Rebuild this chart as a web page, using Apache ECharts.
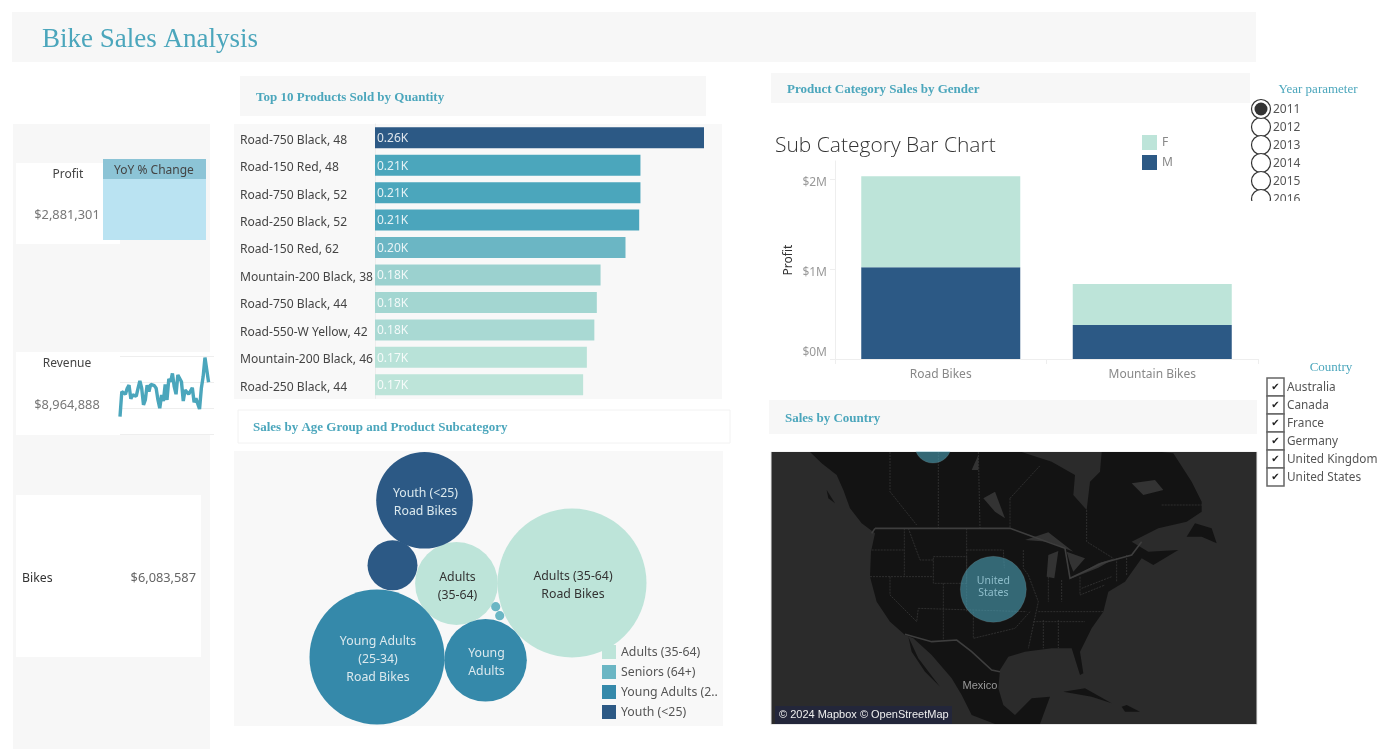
<!DOCTYPE html>
<html>
<head>
<meta charset="utf-8">
<style>html,body{margin:0;padding:0;background:#fff}#c{width:1399px;height:749px}</style>
<script src="https://cdn.jsdelivr.net/npm/echarts@6/dist/echarts.min.js"></script>
</head>
<body>
<div id="c"></div>
<script>
const SANS = '"Noto Sans", sans-serif';
const SERIF = '"Liberation Serif", serif';

// Top 10 products
const productNames = ['Road-750 Black, 48','Road-150 Red, 48','Road-750 Black, 52','Road-250 Black, 52','Road-150 Red, 62','Mountain-200 Black, 38','Road-750 Black, 44','Road-550-W Yellow, 42','Mountain-200 Black, 46','Road-250 Black, 44'];
const productQty = [264,213,213,212,201,181,178,176,170,167];
const productColors = ['#2c5985','#4ba6bc','#4ba6bc','#4ba5bc','#6bb6c4','#9bd1cf','#a3d6d1','#a9d9d3','#b8e2d8','#bde4d9'];

// Gender stacked bars ($M)
const subCategories = ['Road Bikes','Mountain Bikes'];
const profitMale = [1.02,0.378];
const profitFemale = [1.01,0.455];

// Revenue sparkline ($K)
const revenueTrend = [67,163,165,153,176,188,135,150,144,146,176,204,176,112,131,188,163,191,186,186,176,131,99,150,127,191,131,212,201,233,182,153,227,233,201,127,169,176,153,150,178,122,137,137,96,176,221,294,294,199];

// Packed bubbles
const bubbleGroups = ['Adults (35-64)','Seniors (64+)','Young Adults (2..','Youth (<25)'];
const bubbleGroupColors = ['#bde4d9','#6bb6c4','#3589aa','#2c5985'];
const bubbleGroup = [0,0,2,2,3,3,1,1];
const bubbleLabels = ['Adults (35-64)\nRoad Bikes','Adults\n(35-64)','Young Adults\n(25-34)\nRoad Bikes','Young\nAdults','Youth (<25)\nRoad Bikes','','',''];
const bubbleX = [338,222.5,143,251.5,190.5,158.5,261.7,265.7];
const bubbleY = [132,132.5,206,209.3,49.3,114.3,155.7,164.7];
const bubbleSales = [1850,571,1519,569,778,208,7,7];

// Map
const mapCountries = ['Canada','United States'];
const mapX = [504,685];
const mapY = [149,583];
const mapSales = [340,1090];
const mapLabels = ['','United\nStates'];
const landOutline = [[135,171],[170,205],[215,240],[235,285],[255,340],[290,385],[330,415],[318,470],[315,545],[335,620],[375,680],[420,720],[445,730],[500,780],[560,850],[590,900],[620,960],[690,987],[825,987],[855,905],[800,910],[750,960],[715,930],[700,880],[705,825],[730,785],[780,770],[860,760],[920,760],[945,840],[955,835],[945,770],[960,740],[980,700],[1015,650],[1030,590],[1080,560],[1130,490],[1165,510],[1240,465],[1150,470],[1100,440],[1180,400],[1265,380],[1310,350],[1310,320],[1280,260],[1225,175],[1190,171],[1010,171],[1005,230],[975,260],[965,345],[925,300],[930,240],[860,200],[770,171]];
const islands = [
  [[430,725],[460,790],[525,875],[480,830],[440,770]],
  [[895,890],[960,880],[1040,925],[980,905]],
  [[1070,935],[1085,930],[1125,950],[1080,950]],
  [[1265,425],[1290,385],[1340,400],[1355,445],[1310,425]],
  [[185,285],[210,325],[190,310]]
];
const lakes = [
  [[780,435],[850,412],[925,470],[850,440]],
  [[845,545],[850,480],[880,468],[868,550]],
  [[905,470],[960,490],[925,530],[915,505]],
  [[915,552],[1000,505],[1050,490],[1000,518]],
  [[655,310],[690,290],[720,370],[690,350]],
  [[620,225],[640,180],[640,225]],
  [[1100,265],[1170,255],[1195,285],[1135,300]]
];
const borderLines = [
  [[330,400],[735,400],[790,420],[900,460],[915,550],[1010,505],[1100,480],[1130,440]],
  [[420,718],[500,740],[575,735],[620,770],[680,825],[705,830]],
  [[320,415],[330,400]]
];
const regionLines = [
  [[375,171],[375,290],[455,390]],[[520,171],[520,400]],[[640,171],[645,400]],[[735,310],[735,400]],[[735,310],[825,212]],
  [[965,345],[965,440],[1045,490]],[[1190,330],[1310,330]],
  [[418,400],[418,545]],[[315,545],[505,545]],[[375,545],[375,600],[455,680],[460,640]],[[460,640],[785,650]],
  [[505,485],[605,485],[605,565],[505,565],[505,485]],[[605,400],[605,650]],[[605,465],[715,465],[718,520]],[[535,565],[535,735]],
  [[320,465],[418,465]],[[430,400],[465,495],[505,495]],[[625,650],[625,730],[750,700],[795,650]],
  [[775,465],[775,520],[790,540],[820,620],[790,760]],[[850,545],[850,620]],[[890,555],[890,620]],[[945,545],[945,600],[1020,570]],
  [[820,650],[1015,650]],[[805,680],[960,680]],[[835,675],[835,760]],[[880,675],[880,760]],[[950,580],[1040,545]],[[1055,490],[1055,560]],[[1085,480],[1085,540]]
];

// Filters
const yearOptions = ['2011','2012','2013','2014','2015','2016'];
const countryOptions = ['Australia','Canada','France','Germany','United Kingdom','United States'];

function rect(x,y,w,h,fill,z,stroke,lw){return {type:'rect',shape:{x:x,y:y,width:w,height:h},style:{fill:fill,stroke:stroke||null,lineWidth:stroke?(lw||1):0},z:z||0,silent:true};}
function txt(s,x,y,font,fill,align,z){return {type:'text',x:x,y:y+1,style:{text:s,font:font,fill:fill,textAlign:align||'left',textVerticalAlign:'middle'},z:z||20,silent:true};}
const head = 'bold 13px '+SERIF;
const teal = '#4ba6bc';

const g = [
  rect(12,12,1244,50,'#f7f7f7'),
  txt('Bike Sales Analysis',42,39,'27px '+SERIF,teal),
  rect(13,124,197,625,'#f7f7f7'),
  rect(16,163,104,81,'#fff'),
  rect(103,159,103,20,'#8cc4d6',1),
  rect(103,179,103,61,'#bae3f2',1),
  txt('Profit',68,174,'12px '+SANS,'#444','center'),
  txt('$2,881,301',67,214,'12.8px '+SANS,'#777','center'),
  txt('YoY % Change',154,170,'12px '+SANS,'#444','center'),
  rect(16,352,104,83,'#fff'),
  rect(120,352,94,83,'#fff'),
  txt('Revenue',67,363,'12px '+SANS,'#444','center'),
  txt('$8,964,888',67,404,'12.8px '+SANS,'#777','center'),
  rect(16,495,185,162,'#fff'),
  txt('Bikes',22,577,'12.3px '+SANS,'#333'),
  txt('$6,083,587',196,577,'12.8px '+SANS,'#666','right'),
  rect(240,76,466,40,'#f7f7f7'),
  txt('Top 10 Products Sold by Quantity',256,97,head,teal),
  rect(234,124,488,275,'#f8f8f8'),
  rect(238,410,492,33,'#fff',0,'#f2f2f2'),
  txt('Sales by Age Group and Product Subcategory',253,427,head,teal),
  rect(234,451,489,275,'#f8f8f8'),
  rect(771,73,479,30,'#f7f7f7'),
  txt('Product Category Sales by Gender',787,89,head,teal),
  txt('Sub Category Bar Chart',775,145,'300 21px "Open Sans", sans-serif','#333'),
  // map masks and header drawn over the map layer
  rect(765,395,500,56.5,'#fff',10),
  rect(769,400,488,34,'#f7f7f7',11),
  txt('Sales by Country',785,418,head,teal),
  rect(771,451.5,486,273,'#2b2b2b',0,'#e8e8e8'),
  rect(775,706,177,18,'#23263a',12),
  txt('© 2024 Mapbox © OpenStreetMap',779,714,'11px "Liberation Sans", sans-serif','#eee'),
  txt('Mexico',980,685,'11px "Liberation Sans", sans-serif','#9a9a9a','center'),
  txt('Year parameter',1318,89,'13px '+SERIF,teal,'center'),
  txt('Country',1331,367,'13px '+SERIF,teal,'center')
];
yearOptions.forEach(function(y,i){
  const cy = 109+i*18;
  g.push({type:'circle',shape:{cx:1261,cy:cy,r:9.5},style:{fill:'#fff',stroke:'#333',lineWidth:1.2},z:i===0?15:14,silent:true});
  if(i===0) g.push({type:'circle',shape:{cx:1261,cy:cy,r:6.5},style:{fill:'#333'},z:16,silent:true});
  g.push(txt(y,1273,cy,'12px '+SANS,'#555','left',17));
});
g.push(rect(1250,201,60,12,'#fff',18));
countryOptions.forEach(function(c,i){
  const cy = 387+i*18;
  g.push(rect(1267,cy-9,17,18,'#fff',14,'#666',1.5));
  g.push(txt('✔',1275.5,cy-1,'10px "DejaVu Sans", sans-serif','#222','center',15));
  g.push(txt(c,1287,cy-0.5,'11.8px '+SANS,'#555','left',15));
});

const hidden = function(i,min,max,extra){return Object.assign({show:false,type:'value',gridIndex:i,min:min,max:max},extra||{});};

function polyItem(points,api,closed,style){
  const pts = points.map(function(p){return api.coord(p);});
  return {type:closed?'polygon':'polyline',shape:{points:pts},style:style,silent:true};
}

const series = [
  {type:'bar',name:'Quantity',xAxisIndex:0,yAxisIndex:0,barWidth:21,silent:true,
   data:productQty.map(function(v,i){return {value:v,itemStyle:{color:productColors[i]}};}),
   label:{show:true,position:'insideLeft',distance:2,offset:[0,1],fontFamily:SANS,fontSize:12,color:'rgba(255,255,255,0.85)',
     formatter:function(p){return (p.value/1000).toFixed(2)+'K';}}},
  {type:'bar',name:'M',stack:'s',xAxisIndex:1,yAxisIndex:1,barWidth:159,silent:true,data:profitMale,itemStyle:{color:'#2c5985'}},
  {type:'bar',name:'F',stack:'s',xAxisIndex:1,yAxisIndex:1,barWidth:159,silent:true,data:profitFemale,itemStyle:{color:'#bde4d9'}},
  {type:'line',name:'Revenue',xAxisIndex:2,yAxisIndex:2,showSymbol:false,silent:true,clip:false,
   data:revenueTrend.map(function(v,i){return [i,v];}),lineStyle:{color:teal,width:3.4}},
  {type:'custom',name:'land',xAxisIndex:4,yAxisIndex:4,silent:true,z:1,clip:false,data:[0],
   renderItem:function(p,api){
     const kids = [];
     kids.push(polyItem(landOutline,api,true,{fill:'#131313'}));
     islands.forEach(function(s){kids.push(polyItem(s,api,true,{fill:'#131313'}));});
     lakes.forEach(function(s){kids.push(polyItem(s,api,true,{fill:'#333'}));});
     regionLines.forEach(function(s){kids.push(polyItem(s,api,false,{fill:null,stroke:'#363636',lineWidth:0.8,lineDash:[2,1]}));});
     borderLines.forEach(function(s){kids.push(polyItem(s,api,false,{fill:null,stroke:'#3e3e3e',lineWidth:1.6}));});
     return {type:'group',children:kids};
   }},
  {type:'scatter',name:'Sales by Country',xAxisIndex:4,yAxisIndex:4,silent:true,z:3,clip:false,
   data:mapCountries.map(function(c,i){return {name:c,value:[mapX[i],mapY[i],mapSales[i]],label:{formatter:mapLabels[i]}};}),
   symbolSize:function(v){return 2*Math.sqrt(v[2]);},
   itemStyle:{color:'rgba(75,166,188,0.58)',borderColor:'rgba(200,200,200,0.25)',borderWidth:0.5,opacity:1},
   label:{show:true,position:'inside',offset:[0,-2],fontFamily:SANS,fontSize:10.5,lineHeight:12,color:'#8fbecb'}}
];
bubbleGroups.forEach(function(name,gi){
  const rows = [];
  bubbleGroup.forEach(function(k,i){ if(k===gi) rows.push({value:[bubbleX[i],bubbleY[i],bubbleSales[i]],label:{formatter:bubbleLabels[i]}}); });
  series.push({type:'scatter',name:name,xAxisIndex:3,yAxisIndex:3,silent:true,clip:false,data:rows,
    symbolSize:function(v){return 2*Math.sqrt(3*v[2]);},
    itemStyle:{color:bubbleGroupColors[gi],opacity:1},
    label:{show:true,position:'inside',offset:[1,2.5],fontFamily:SANS,fontSize:12.3,lineHeight:18,color:gi===0?'#333':'#dbe9ee'}});
});

const option = {
  animation:false,
  backgroundColor:'#fff',
  tooltip:{show:false},
  legend:[
    {data:bubbleGroups,left:602,top:645,orient:'vertical',itemWidth:14,itemHeight:14,itemGap:6,icon:'rect',selectedMode:false,z:6,
     textStyle:{fontFamily:SANS,fontSize:12.3,color:'#555',padding:[5,0,0,0]},padding:0},
    {data:['F','M'],left:1142,top:135,orient:'vertical',itemWidth:15,itemHeight:15,itemGap:5,icon:'rect',selectedMode:false,
     textStyle:{fontFamily:SANS,fontSize:12,color:'#888',padding:[4,0,0,0]},padding:0}
  ],
  grid:[
    {left:375,top:124,width:329,height:274.5},
    {left:835,top:161,width:423,height:198},
    {left:120,top:356,width:94,height:78},
    {left:234,top:451,width:489,height:275},
    {left:771,top:400,width:486,height:324}
  ],
  xAxis:[
    hidden(0,0,264),
    {type:'category',gridIndex:1,data:subCategories,
     axisLine:{lineStyle:{color:'#eee'}},axisTick:{show:true,length:5,alignWithLabel:false,lineStyle:{color:'#eee'}},
     axisLabel:{fontFamily:SANS,fontSize:12,color:'#888',margin:10}},
    {type:'value',gridIndex:2,min:0,max:52,show:false},
    hidden(3,0,489),
    hidden(4,18,1476)
  ],
  yAxis:[
    {type:'category',gridIndex:0,inverse:true,data:productNames,
     axisLine:{lineStyle:{color:'#ececec'}},axisTick:{show:false},
     axisLabel:{align:'left',margin:135,fontFamily:SANS,fontSize:12.1,color:'#444',
       formatter:function(v){return '{a|'+v+'}';},
       rich:{a:{fontFamily:SANS,fontSize:12.1,color:'#444',padding:[5,0,0,0]}}}},
    {type:'value',gridIndex:1,min:0,max:2.2,interval:1,name:'Profit',nameLocation:'middle',nameGap:40,
     nameTextStyle:{fontFamily:SANS,fontSize:12,color:'#333'},
     splitLine:{show:false},axisLine:{show:true,lineStyle:{color:'#eee'}},axisTick:{show:true,length:5,lineStyle:{color:'#eee'}},
     axisLabel:{fontFamily:SANS,fontSize:12,color:'#999',margin:8,showMaxLabel:false,verticalAlignMinLabel:'bottom',
       formatter:function(v){return '{a|$'+v+'M}';},
       rich:{a:{fontFamily:SANS,fontSize:12,color:'#999',padding:[8,0,0,0]}}}},
    {type:'value',gridIndex:2,min:0,max:300,interval:100,axisLine:{show:false},axisTick:{show:false},axisLabel:{show:false},
     splitLine:{show:true,lineStyle:{color:'#eeeeee'}}},
    hidden(3,0,275,{inverse:true}),
    hidden(4,15,987,{inverse:true})
  ],
  graphic:{elements:g},
  series:series
};
echarts.init(document.getElementById('c')).setOption(option);
</script>
</body>
</html>
